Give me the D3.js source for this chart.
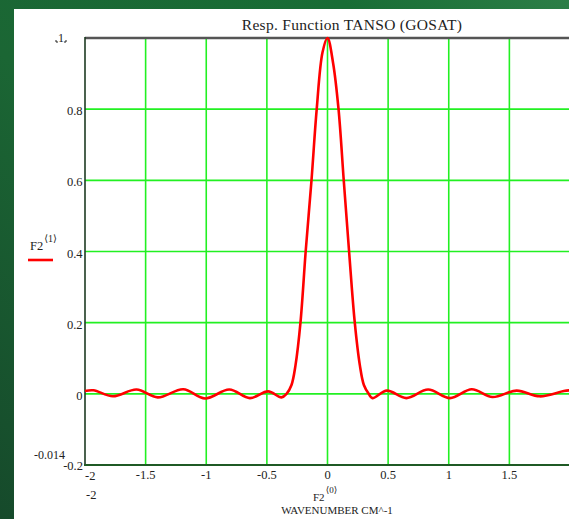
<!DOCTYPE html>
<html>
<head>
<meta charset="utf-8">
<script src="https://cdn.jsdelivr.net/npm/d3@7"></script>
<style>
  html, body { margin: 0; padding: 0; background: #1a5e33; }
  svg { display: block; }
</style>
</head>
<body>
<svg id="chart" width="569" height="519" font-family="'Liberation Serif', 'DejaVu Serif', 'Times New Roman', serif"></svg>
<script>
// Instrument line shape: wavenumber offset (cm^-1) and normalised response
const wavenumber = [
  -2.00, -1.93, -1.77, -1.575, -1.40, -1.19, -1.01, -0.81, -0.64, -0.49, -0.38,
  -0.338, -0.297, -0.264, -0.223, -0.18, -0.132, -0.089, -0.041, 0.0,
  0.046, 0.091, 0.134, 0.178, 0.225, 0.267, 0.30, 0.34, 0.37,
  0.49, 0.65, 0.83, 1.01, 1.19, 1.36, 1.56, 1.75, 1.95, 2.00
];
const response = [
  0.008, 0.010, -0.007, 0.012, -0.010, 0.013, -0.013, 0.012, -0.012, 0.007, -0.010,
  0.0, 0.025, 0.08, 0.20, 0.40, 0.60, 0.80, 0.96, 1.0,
  0.93, 0.80, 0.60, 0.40, 0.20, 0.08, 0.025, 0.0, -0.012,
  0.009, -0.012, 0.012, -0.012, 0.013, -0.009, 0.009, -0.007, 0.008, 0.010
];
const xTicks = [-1.5, -1, -0.5, 0, 0.5, 1, 1.5];
const xTickLabels = ["-1.5", "-1", "-0.5", "0", "0.5", "1", "1.5"];
const yTicks = [0, 0.2, 0.4, 0.6, 0.8];
const yTickLabels = ["0", "0.2", "0.4", "0.6", "0.8"];
const chartTitle = "Resp. Function TANSO (GOSAT)";
const xTitle = "WAVENUMBER  CM^-1";

const svg = d3.select("#chart");
const W = 569, H = 519;
const ink = "#222";

// backdrop
const defs = svg.append("defs");
const bg = defs.append("linearGradient").attr("id", "bg")
  .attr("x1", "0%").attr("y1", "100%").attr("x2", "100%").attr("y2", "0%");
bg.append("stop").attr("offset", "0%").attr("stop-color", "#164a2b");
bg.append("stop").attr("offset", "45%").attr("stop-color", "#1b6634");
bg.append("stop").attr("offset", "80%").attr("stop-color", "#186d35");
bg.append("stop").attr("offset", "100%").attr("stop-color", "#2c7e47");
svg.append("rect").attr("width", W).attr("height", H).attr("fill", "url(#bg)");
svg.append("rect").attr("x", 14).attr("y", 9).attr("width", W - 14).attr("height", H - 9).attr("fill", "#ffffff");

const x = d3.scaleLinear().domain([-2, 2]).range([85, 570]);
const y = d3.scaleLinear().domain([-0.2, 1]).range([465, 38]);

// grid
const gridColor = "#22f022";
svg.append("g").selectAll("line").data(xTicks).join("line")
  .attr("x1", d => x(d)).attr("x2", d => x(d))
  .attr("y1", y(1)).attr("y2", y(-0.2))
  .attr("stroke", gridColor).attr("stroke-width", 1.6);
svg.append("g").selectAll("line").data(yTicks).join("line")
  .attr("x1", x(-2)).attr("x2", W)
  .attr("y1", d => y(d)).attr("y2", d => y(d))
  .attr("stroke", gridColor).attr("stroke-width", 1.6);

// frame
svg.append("line").attr("x1", x(-2)).attr("x2", W).attr("y1", y(1)).attr("y2", y(1))
  .attr("stroke", "#555").attr("stroke-width", 2.5);
svg.append("line").attr("x1", x(-2)).attr("x2", x(-2)).attr("y1", y(1) - 1).attr("y2", y(-0.2))
  .attr("stroke", "#1d3a22").attr("stroke-width", 1.6);
svg.append("line").attr("x1", x(-2) - 1).attr("x2", W).attr("y1", y(-0.2)).attr("y2", y(-0.2))
  .attr("stroke", "#1f5a25").attr("stroke-width", 2);

// response curve
const line = d3.line()
  .x((d, i) => x(wavenumber[i]))
  .y(d => y(d))
  .curve(d3.curveCatmullRom.alpha(0.5));
svg.append("path").datum(response)
  .attr("d", line)
  .attr("fill", "none").attr("stroke", "#ff0000").attr("stroke-width", 2.6)
  .attr("stroke-linejoin", "round");

// y tick labels
svg.append("g").selectAll("text").data(yTicks).join("text")
  .attr("x", 82.5).attr("y", d => y(d) + 6)
  .attr("text-anchor", "end").attr("font-size", 12.5).attr("fill", ink)
  .text((d, i) => yTickLabels[i]);

// x tick labels
svg.append("g").selectAll("text").data(xTicks).join("text")
  .attr("x", d => x(d)).attr("y", 479)
  .attr("text-anchor", "middle").attr("font-size", 12.5).attr("fill", ink)
  .text((d, i) => xTickLabels[i]);

// axis limit labels
svg.append("text").attr("x", 61).attr("y", 42).attr("text-anchor", "middle")
  .attr("font-size", 12).attr("fill", ink).text("1");
svg.append("path").attr("d", "M56,40 v2 h2 M66,40 v2 h-2")
  .attr("stroke", ink).attr("fill", "none").attr("stroke-width", 1);
svg.append("text").attr("x", 34).attr("y", 459).attr("font-size", 12).attr("fill", ink).text("-0.014");
svg.append("text").attr("x", 83).attr("y", 469.5).attr("text-anchor", "end")
  .attr("font-size", 12.5).attr("fill", ink).text("-0.2");
svg.append("text").attr("x", 85).attr("y", 480).attr("font-size", 12.5).attr("fill", ink).text("-2");
svg.append("text").attr("x", 86).attr("y", 499).attr("font-size", 12.5).attr("fill", ink).text("-2");

// title
svg.append("text").attr("x", 352).attr("y", 30).attr("text-anchor", "middle")
  .attr("font-size", 15.5).attr("letter-spacing", 0.3).attr("fill", ink).text(chartTitle);

// legend
const leg = svg.append("text").attr("x", 30).attr("y", 249.5).attr("font-size", 12.5).attr("fill", ink);
leg.append("tspan").text("F2");
leg.append("tspan").attr("dy", -8).attr("dx", 1).attr("font-size", 10).text("\u27E81\u27E9");
svg.append("line").attr("x1", 28).attr("x2", 53).attr("y1", 260).attr("y2", 260)
  .attr("stroke", "#ff0000").attr("stroke-width", 2.6);

// x axis title
const xl = svg.append("text").attr("x", 313).attr("y", 501).attr("font-size", 11).attr("fill", ink);
xl.append("tspan").text("F2");
xl.append("tspan").attr("dy", -8).attr("dx", 1).attr("font-size", 9).text("\u27E80\u27E9");
svg.append("text").attr("x", 337).attr("y", 514).attr("text-anchor", "middle")
  .attr("font-size", 11).attr("fill", ink).text(xTitle);
</script>
</body>
</html>
